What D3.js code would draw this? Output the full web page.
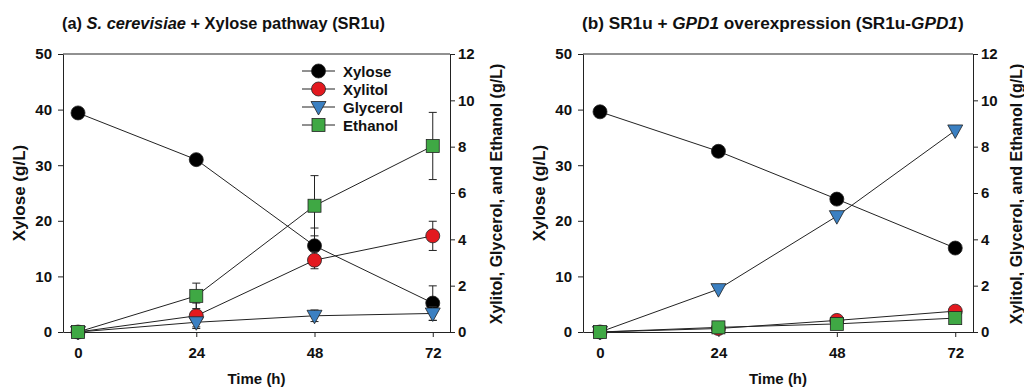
<!DOCTYPE html>
<html><head><meta charset="utf-8">
<script src="https://cdn.jsdelivr.net/npm/d3@7"></script>
<style>
body{margin:0;background:#fff;}
svg text{font-family:"Liberation Sans",Arial,sans-serif;font-weight:bold;fill:#111;}
</style></head>
<body><svg id="c" width="1024" height="387"></svg>
<script>
const times = [0, 24, 48, 72];
const xTickLabels = ["0", "24", "48", "72"];
const leftTicks = [0, 10, 20, 30, 40, 50];
const rightTicks = [0, 2, 4, 6, 8, 10, 12];
const seriesNames = ["Xylose", "Xylitol", "Glycerol", "Ethanol"];
const seriesColors = ["#000000", "#e3191f", "#3b80c2", "#3fa844"];

// Panel (a): xylose on left axis, others on right axis
const aXylose = [39.4, 31.0, 15.5, 5.2];
const aXyloseErr = [0, 0, 3.2, 3.1];
const aXylitol = [0, 0.7, 3.1, 4.15];
const aXylitolErr = [0, 0.55, 0.37, 0.63];
const aGlycerol = [0, 0.42, 0.7, 0.8];
const aGlycerolErr = [0, 0.2, 0.25, 0.3];
const aEthanol = [0, 1.56, 5.45, 8.03];
const aEthanolErr = [0, 0.55, 1.3, 1.45];

// Panel (b)
const bXylose = [39.6, 32.5, 23.9, 15.1];
const bXylitol = [0, 0.15, 0.5, 0.9];
const bGlycerol = [0, 1.85, 5.0, 8.7];
const bEthanol = [0, 0.2, 0.35, 0.6];

const panels = [
  {title: [["(a) ", false], ["S. cerevisiae", true], [" + Xylose pathway (SR1u)", false]], titleSize: 16.4,
   x0: 63, x1: 450, xd: [-3.05, 75.5], legend: true, rOff: 52,
   series: [
     {v: aXylose, e: aXyloseErr, axis: "L"},
     {v: aXylitol, e: aXylitolErr, axis: "R"},
     {v: aGlycerol, e: aGlycerolErr, axis: "R"},
     {v: aEthanol, e: aEthanolErr, axis: "R"}]},
  {title: [["(b) SR1u + ", false], ["GPD1", true], [" overexpression (SR1u-", false], ["GPD1", true], [")", false]], titleSize: 17.2,
   x0: 583, x1: 973, xd: [-3.45, 75.6], legend: false, rOff: 49,
   series: [
     {v: bXylose, e: null, axis: "L"},
     {v: bXylitol, e: null, axis: "R"},
     {v: bGlycerol, e: null, axis: "R"},
     {v: bEthanol, e: null, axis: "R"}]}
];

const svg = d3.select("#c");
const yTop = 54, yBot = 332;

function marker(g, i, cx, cy) {
  const col = seriesColors[i];
  if (i <= 1) {
    g.append("circle").attr("cx", cx).attr("cy", cy).attr("r", 7)
      .attr("fill", col).attr("stroke", "#222").attr("stroke-width", 0.8);
  } else if (i === 2) {
    const s = 7.5;
    g.append("path").attr("d", `M${cx - s},${cy - 5.5}L${cx + s},${cy - 5.5}L${cx},${cy + 8}Z`)
      .attr("fill", col).attr("stroke", "#222").attr("stroke-width", 0.8);
  } else {
    g.append("rect").attr("x", cx - 6.5).attr("y", cy - 6.5).attr("width", 13).attr("height", 13)
      .attr("fill", col).attr("stroke", "#222").attr("stroke-width", 0.8);
  }
}

panels.forEach(p => {
  const g = svg.append("g");
  const x = d3.scaleLinear().domain(p.xd).range([p.x0, p.x1]);
  const yL = d3.scaleLinear().domain([0, 50]).range([yBot, yTop]);
  const yR = d3.scaleLinear().domain([0, 12]).range([yBot, yTop]);

  g.append("line").attr("x1", p.x0).attr("x2", p.x1).attr("y1", yTop).attr("y2", yTop)
    .attr("stroke", "#222").attr("stroke-width", 1);

  const axB = g.append("g").attr("transform", `translate(0,${yBot})`)
    .call(d3.axisBottom(x).tickValues(times).tickFormat((d, i) => xTickLabels[i]).tickSize(5).tickSizeOuter(0).tickPadding(10));
  const axL = g.append("g").attr("transform", `translate(${p.x0},0)`)
    .call(d3.axisLeft(yL).tickValues(leftTicks).tickSize(5).tickSizeOuter(0).tickPadding(6));
  const axR = g.append("g").attr("transform", `translate(${p.x1},0)`)
    .call(d3.axisRight(yR).tickValues(rightTicks).tickSize(5).tickSizeOuter(0).tickPadding(3));
  [axB, axL, axR].forEach(a => {
    a.selectAll("path,line").attr("stroke", "#222");
    a.selectAll("text").attr("font-size", 15).attr("font-family", "Liberation Sans, Arial, sans-serif")
      .attr("font-weight", "bold").attr("fill", "#111");
  });

  g.append("text").attr("x", (p.x0 + p.x1) / 2).attr("y", 384).attr("text-anchor", "middle")
    .attr("font-size", 15).text("Time (h)");
  g.append("text").attr("transform", `translate(${p.x0 - 38},${(yTop + yBot) / 2}) rotate(-90)`)
    .attr("text-anchor", "middle").attr("font-size", 17).text("Xylose (g/L)");
  g.append("text").attr("transform", `translate(${p.x1 + p.rOff},${(yTop + yBot) / 2 + 1}) rotate(-90)`)
    .attr("text-anchor", "middle").attr("font-size", 16).text("Xylitol, Glycerol, and Ethanol (g/L)");

  const t = g.append("text").attr("x", p.x0 - 1).attr("y", 29).attr("font-size", p.titleSize);
  p.title.forEach(([s, it]) => t.append("tspan").attr("font-style", it ? "italic" : "normal").text(s));

  p.series.forEach((s, i) => {
    const ys = s.axis === "L" ? yL : yR;
    const line = d3.line().x((d, j) => x(times[j])).y(d => ys(d));
    g.append("path").datum(s.v).attr("d", line).attr("fill", "none")
      .attr("stroke", "#222").attr("stroke-width", 1);
  });
  p.series.forEach((s, i) => {
    const ys = s.axis === "L" ? yL : yR;
    if (s.e) {
      s.v.forEach((v, j) => {
        const e = s.e[j];
        if (!e) return;
        const cx = x(times[j]);
        const eg = g.append("g").attr("stroke", "#222").attr("stroke-width", 1);
        eg.append("line").attr("x1", cx).attr("x2", cx).attr("y1", ys(v - e)).attr("y2", ys(v + e));
        [v - e, v + e].forEach(w => eg.append("line").attr("x1", cx - 4).attr("x2", cx + 4).attr("y1", ys(w)).attr("y2", ys(w)));
      });
    }
    s.v.forEach((v, j) => marker(g, i, x(times[j]), ys(v)));
  });

  if (p.legend) {
    const lg = g.append("g");
    const ly = [71, 89, 107, 125];
    seriesNames.forEach((n, i) => {
      lg.append("line").attr("x1", 302).attr("x2", 335).attr("y1", ly[i]).attr("y2", ly[i])
        .attr("stroke", "#222").attr("stroke-width", 1);
      marker(lg, i, 318.5, ly[i]);
      lg.append("text").attr("x", 343).attr("y", ly[i] + 5.5).attr("font-size", 15).text(n);
    });
  }
});
</script></body></html>
